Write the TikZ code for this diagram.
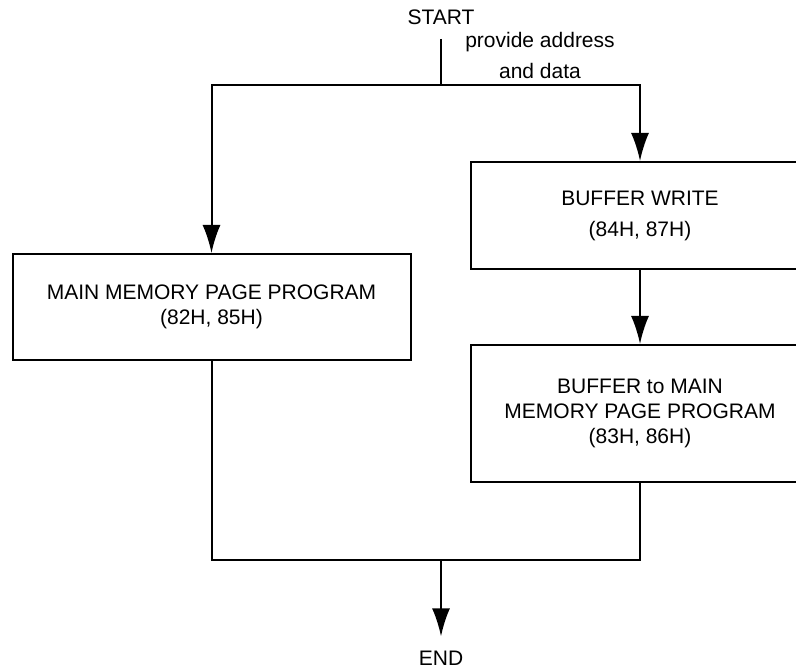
\documentclass[tikz,border=0pt]{standalone}
\usepackage{fontspec}
\setmainfont{Liberation Sans}
\usetikzlibrary{arrows.meta}
\tikzset{
  txt/.style={inner sep=7pt, font=\fontsize{10.5}{12.5}\selectfont, align=center},
  box/.style={rectangle, draw, line width=1pt, inner sep=0pt, align=center,
              font=\fontsize{10.5}{12.5}\selectfont},
  line/.style={line width=1pt},
  fwd/.style={-{Latex[length=14pt,width=9pt]}, line width=1pt},
}
\begin{document}
\begin{tikzpicture}[x=0.5pt,y=-0.5pt]
  \clip (0,0) rectangle (796,672);
  \node[txt] (start) at (441,17) {START};
  \coordinate (fork) at (441,85);
  \node[txt] (lab) at (540,56) {provide address\\[3pt]and data};
  \node[box, minimum width=199pt, minimum height=53pt] (mainprog) at (211.5,307) {MAIN MEMORY PAGE PROGRAM\\(82H, 85H)};
  \node[box, minimum width=169pt, minimum height=53.5pt] (bufwrite) at (640,215.5) {BUFFER WRITE\\[3pt](84H, 87H)};
  \node[box, minimum width=169pt, minimum height=68.5pt] (bufprog) at (640,413.5) {BUFFER to MAIN\\MEMORY PAGE PROGRAM\\(83H, 86H)};
  \coordinate (join) at (441,560);
  \node[txt] (end) at (441,658) {END};

  \draw[line] (start.south) -- (fork);
  \draw[fwd] (fork) -| (mainprog.north);
  \draw[fwd] (fork) -| (bufwrite.north);
  \draw[fwd] (bufwrite) -- (bufprog);
  \draw[line] (mainprog.south) |- (join) -| (bufprog.south);
  \draw[fwd] (join) -- (end.north);
\end{tikzpicture}
\end{document}
